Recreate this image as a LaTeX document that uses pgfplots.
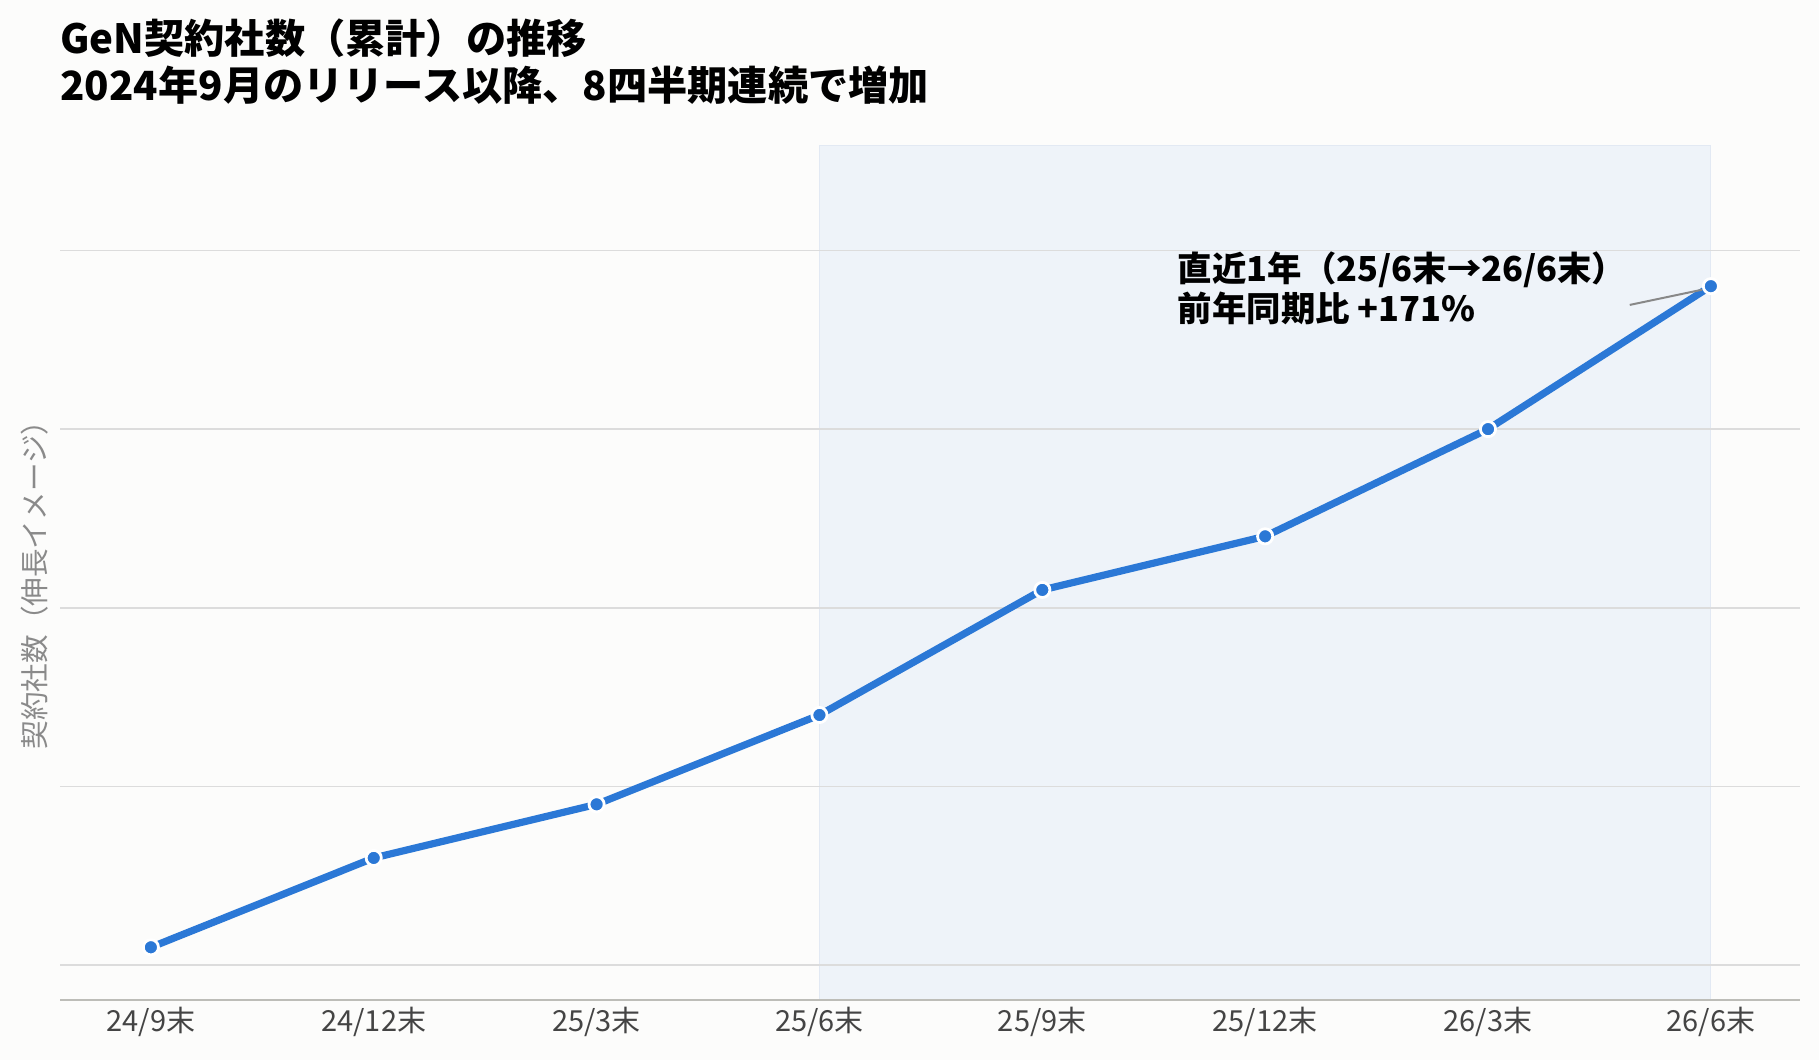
\documentclass[border=0pt]{standalone}
\usepackage{fontspec}
\setmainfont{Noto Sans CJK JP}
\usepackage{pgfplots}
\pgfplotsset{compat=1.18}
\definecolor{bg}{HTML}{FCFCFB}
\definecolor{lineblue}{HTML}{2B78D6}
\definecolor{spanc}{HTML}{EEF3F9}
\definecolor{spanedge}{HTML}{E2E9F3}
\definecolor{gridc}{HTML}{DCDCDC}
\definecolor{axc}{HTML}{BDBDB8}
\definecolor{tickc}{HTML}{444444}
\definecolor{labc}{HTML}{8A8A8A}
\definecolor{connc}{HTML}{888888}
\pgfplotsset{common/.style={
  at={(30.2pt,30pt)}, anchor=south west,
  scale only axis, width=869.8pt, height=427.5pt,
  xmin=-0.406, xmax=7.40, ymin=-3.9, ymax=91.8}}
\begin{document}
\begin{tikzpicture}[x=1pt,y=1pt]
\fill[bg] (0,0) rectangle (909.5,530);
\begin{axis}[common, hide axis]
\fill[spanc, draw=spanedge, line width=0.6pt] (axis cs:3,-3.9) rectangle (axis cs:7,91.8);
\end{axis}
\begin{axis}[
  common,
  axis line style={draw=none},
  clip=false,
  xtick={0,1,2,3,4,5,6,7},
  xticklabels={24/9末,24/12末,25/3末,25/6末,25/9末,25/12末,26/3末,26/6末},
  xticklabel style={font=\fontsize{14.5}{17}\selectfont, text=tickc},
  ytick={0,20,40,60,80}, yticklabels={},
  major tick length=0pt,
  ymajorgrids, grid style={gridc, line width=0.85pt},
]
\draw[axc, line width=1.4pt] (axis cs:-0.406,-3.9) -- (axis cs:7.40,-3.9);
\addplot[lineblue, line width=3.6pt, line join=round,
  mark=*, mark size=3.8pt, mark options={fill=lineblue, draw=white, line width=1.4pt}]
  coordinates {(0,2) (1,12) (2,18) (3,28) (4,42) (5,48) (6,60) (7,76)};
\draw[connc, line width=1pt] (axis cs:6.636,73.9) -- (axis cs:6.96,75.6);
\node[anchor=west, align=left, inner sep=0pt, font=\fontsize{17.2}{20.1}\selectfont\bfseries] at (axis cs:4.607,75.8) {直近1年（25/6末→26/6末）\\前年同期比 +171\%};
\end{axis}
\node[anchor=base west, inner sep=0pt, font=\fontsize{20.1}{24}\selectfont\bfseries] at (30,503.3) {GeN契約社数（累計）の推移};
\node[anchor=base west, inner sep=0pt, font=\fontsize{20.1}{24}\selectfont\bfseries] at (30,479.5) {2024年9月のリリース以降、8四半期連続で増加};
\node[rotate=90, inner sep=0pt, font=\fontsize{14.3}{16}\selectfont, text=labc] at (17.4,241) {契約社数（伸長イメージ）};
\end{tikzpicture}
\end{document}
